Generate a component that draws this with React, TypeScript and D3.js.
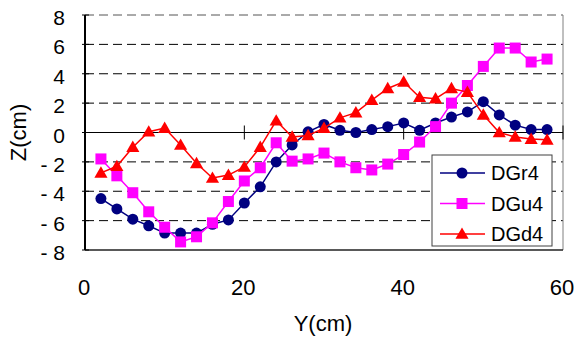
import React from 'react';
import * as d3 from 'd3';

// Y positions (cm) of the measuring points
const yCm = [2, 4, 6, 8, 10, 12, 14, 16, 18, 20, 22, 24, 26, 28, 30, 32, 34, 36, 38, 40, 42, 44, 46, 48, 50, 52, 54, 56, 58];

// Z values (cm) per series
const dgr4 = [-4.5, -5.2, -5.9, -6.35, -6.85, -6.85, -6.85, -6.25, -5.95, -4.8, -3.7, -2.0, -0.85, 0.05, 0.55, 0.15, 0.0, 0.2, 0.4, 0.65, 0.15, 0.65, 1.05, 1.4, 2.1, 1.2, 0.5, 0.2, 0.2];
const dgu4 = [-1.8, -2.95, -4.1, -5.4, -6.45, -7.45, -7.1, -6.15, -4.7, -3.3, -2.4, -0.7, -1.95, -1.8, -1.4, -2.0, -2.4, -2.55, -2.15, -1.5, -0.65, 0.4, 2.0, 3.2, 4.5, 5.75, 5.75, 4.8, 5.0];
const dgd4 = [-2.75, -2.3, -1.0, 0.05, 0.3, -0.85, -2.1, -3.1, -2.9, -2.35, -1.0, 0.8, -0.3, -0.2, 0.3, 1.0, 1.35, 2.2, 3.0, 3.45, 2.4, 2.3, 3.0, 2.75, 1.2, 0.0, -0.3, -0.45, -0.5];

const seriesNames = ['DGr4', 'DGu4', 'DGd4'];
const seriesColors = ['#000080', '#FF00FF', '#FF0000'];
const seriesShapes = ['circle', 'square', 'triangle'];

const xTicks = [0, 20, 40, 60];
const yTicks = [-8, -6, -4, -2, 0, 2, 4, 6, 8];

const W = 577;
const H = 338;
const margin = { top: 15, right: 14, bottom: 88, left: 85 };

const font = 'Liberation Sans, Arial, sans-serif';

function Marker({ shape, cx, cy, color }) {
  if (shape === 'circle') {
    return <circle cx={cx} cy={cy} r={5.5} fill={color} />;
  }
  if (shape === 'square') {
    return <rect x={cx - 5.5} y={cy - 5.5} width={11} height={11} fill={color} />;
  }
  const s = d3.symbol().type(d3.symbolTriangle).size(75)();
  return <path d={s} transform={`translate(${cx},${cy + 1})`} fill={color} />;
}

const App = () => {
  const x = d3.scaleLinear().domain([0, 60]).range([margin.left, W - margin.right]);
  const y = d3.scaleLinear().domain([-8, 8]).range([H - margin.bottom, margin.top]);

  const allSeries = [dgr4, dgu4, dgd4];

  const line = d3
    .line<number>()
    .x((_, i) => x(yCm[i]))
    .y((d) => y(d));

  const x0 = x(0);
  const x1 = x(60);
  const yTop = y(8);
  const yBot = y(-8);

  // legend box
  const lg = { x: 432, y: 155, w: 120, h: 91 };

  return (
    <svg
      width={W}
      height={H}
      style={{ position: 'absolute', left: 0, top: 0, background: '#fff' }}
      fontFamily={font}
    >
      {/* gridlines */}
      {yTicks.map((t) =>
        t === 0 || t === -8 ? null : (
          <line
            key={'g' + t}
            x1={x0}
            x2={x1}
            y1={y(t)}
            y2={y(t)}
            stroke={t === 8 ? '#555' : '#000'}
            strokeWidth={1}
            strokeDasharray="9,5"
          />
        )
      )}
      {/* plot border right / bottom */}
      <line x1={x1} x2={x1} y1={yTop} y2={yBot} stroke="#808080" strokeWidth={1} />
      <line x1={x0} x2={x1} y1={yBot} y2={yBot} stroke="#222" strokeWidth={1.5} />

      {/* y axis */}
      <line x1={x0} x2={x0} y1={yTop} y2={yBot} stroke="#000" strokeWidth={2} />
      {yTicks.map((t) => (
        <g key={'yt' + t}>
          <line x1={x0 - 3} x2={x0 + 4} y1={y(t)} y2={y(t)} stroke="#000" strokeWidth={1} />
          <text x={65} y={y(t) + 10} fontSize={21} textAnchor="end" fill="#000">
            {t < 0 ? '- ' + Math.abs(t) : String(t)}
          </text>
        </g>
      ))}

      {/* x axis at z=0 */}
      <line x1={x0} x2={x1} y1={y(0)} y2={y(0)} stroke="#000" strokeWidth={1} />
      {xTicks.map((t) => (
        <g key={'xt' + t}>
          <line x1={x(t)} x2={x(t)} y1={y(0) - 7} y2={y(0) + 7} stroke="#000" strokeWidth={1} />
          <text x={x(t) - 1} y={295} fontSize={22} textAnchor="middle" fill="#000">
            {t}
          </text>
        </g>
      ))}

      {/* axis titles */}
      <text x={323} y={331} fontSize={22} textAnchor="middle" fill="#000">
        Y(cm)
      </text>
      <text
        transform={`translate(26,${y(0)}) rotate(-90)`}
        fontSize={22}
        textAnchor="middle"
        fill="#000"
      >
        Z(cm)
      </text>

      {/* series */}
      {allSeries.map((s, si) => (
        <g key={'s' + si}>
          <path d={line(s) || ''} fill="none" stroke={seriesColors[si]} strokeWidth={1.5} />
          {s.map((v, i) => (
            <Marker key={i} shape={seriesShapes[si]} cx={x(yCm[i])} cy={y(v)} color={seriesColors[si]} />
          ))}
        </g>
      ))}

      {/* legend */}
      <rect x={lg.x} y={lg.y} width={lg.w} height={lg.h} fill="#fff" stroke="#404040" strokeWidth={1} />
      {seriesNames.map((n, i) => {
        const cy = 173 + i * 30.5;
        return (
          <g key={'l' + n}>
            <line x1={440} x2={485} y1={cy} y2={cy} stroke={seriesColors[i]} strokeWidth={1.5} />
            <Marker shape={seriesShapes[i]} cx={462} cy={cy} color={seriesColors[i]} />
            <text x={491} y={cy + 7} fontSize={20} fill="#000">
              {n}
            </text>
          </g>
        );
      })}
    </svg>
  );
};

export default App;
